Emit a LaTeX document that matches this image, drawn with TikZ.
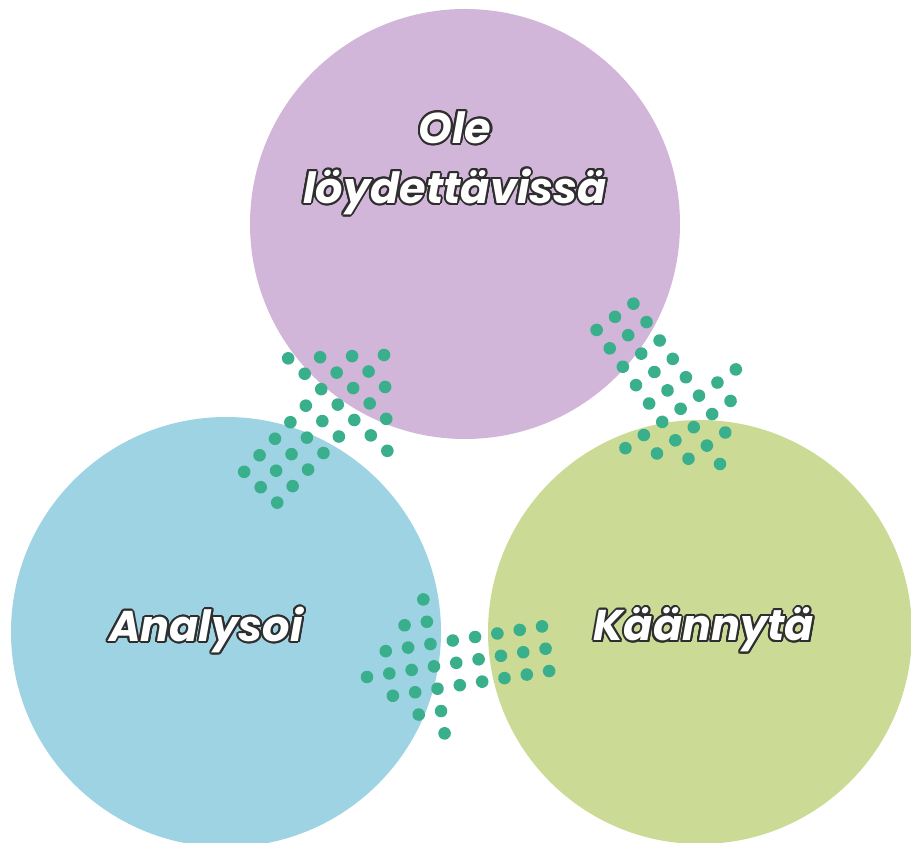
\documentclass[tikz,border=0pt]{standalone}
\usepackage{fontspec}
\setmainfont{Poppins}
\usepackage{contour}
\contourlength{2pt}
\definecolor{lila}{HTML}{D1B6DA}
\definecolor{sini}{HTML}{9DD3E3}
\definecolor{vihr}{HTML}{CBDB96}
\definecolor{piste}{HTML}{3AAF8C}
\definecolor{reuna}{HTML}{2E2E2E}
\newcommand{\otsikko}[1]{\contour{reuna}{\textcolor{white}{#1}}}

\begin{document}
\begin{tikzpicture}[x=1pt,y=1pt]
\tikzstyle{every node}+=[inner sep=0pt]
\tikzset{pallo/.style={circle,minimum size=#1},
  teksti/.style={font=\fontsize{43}{60}\selectfont\bfseries\itshape,align=center}}
\useasboundingbox (0,0) rectangle (911,843);
\node [pallo=430pt,fill=lila] (ole) at (465,619) {};
\node [pallo=430pt,fill=sini] (analysoi) at (226,211) {};
\node [pallo=424pt,fill=vihr] (kaannyta) at (700,211) {};
\coordinate (karki1) at (384,488);
\coordinate (karki2) at (720,379);
\coordinate (karki3) at (367,166);
\foreach \karki/\suunta in {karki1/47,karki2/-54.5,karki3/189} {
  \begin{scope}[shift={(\karki)},rotate=\suunta]
  \foreach \k in {0,...,3}
    \foreach \j in {-\k,...,\k}
      \fill [piste] (-22.6*\k,22.6*\j) circle (6.3);
  \foreach \k in {4,...,8}
    \foreach \j in {-1,0,1}
      \fill [piste] (-22.6*\k,22.6*\j) circle (6.3);
  \end{scope}
}
\node [teksti] (oleteksti) at (455,679) {\otsikko{Ole}\\\otsikko{löydettävissä}};
\node [teksti] (analysoiteksti) at (206,212) {\otsikko{Analysoi}};
\node [teksti] (kaannytateksti) at (704,212) {\otsikko{Käännytä}};
\end{tikzpicture}
\end{document}
